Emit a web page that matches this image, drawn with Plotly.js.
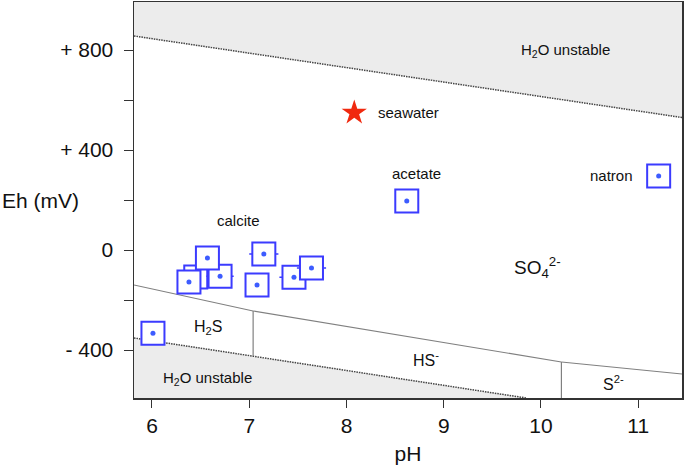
<!DOCTYPE html>
<html>
<head>
<meta charset="utf-8">
<script src="https://cdn.plot.ly/plotly-3.0.1.min.js"></script>
<style>
  html, body { margin: 0; padding: 0; background: #fff; }
  #chart { width: 685px; height: 466px; }
</style>
</head>
<body>
<div id="chart"></div>
<script>
// axis extent (pH, mV)
var phRange = [5.815, 11.45];
var ehRange = [-592, 992];

// water stability limits
var upperWaterPH = [5.815, 11.45];
var upperWaterEh = [856, 530];
var lowerWaterPH = [5.815, 9.85];
var lowerWaterEh = [-352, -592];

// sulfur species boundaries
var so4H2sPH = [5.815, 7.04];
var so4H2sEh = [-140, -244];
var so4HsPH = [7.04, 10.21];
var so4HsEh = [-244, -448];
var so4S2PH = [10.21, 11.45];
var so4S2Eh = [-448, -496];
var h2sHsPH = [7.04, 7.04];
var h2sHsEh = [-244, -424];
var hsS2PH = [10.21, 10.21];
var hsS2Eh = [-448, -592];

// samples (calcite cluster, lone point, acetate, natron), back to front
var samplePH = [6.45, 6.70, 6.57, 6.38, 7.08, 7.15, 7.46, 7.64, 6.01, 8.62, 11.21];
var sampleEh = [-108, -105, -32, -128, -140, -16, -109, -72, -333, 196, 296];
var sampleErr = [0, 0.14, 0, 0, 0, 0.15, 0.15, 0.15, 0, 0, 0];

// seawater
var seaPH = [8.08];
var seaEh = [549];

var yTicks = [-400, -200, 0, 200, 400, 600, 800];
var yTickText = ['- 400', '', '0', '', '+ 400', '', '+ 800'];
var xTicks = [6, 7, 8, 9, 10, 11];

var font = 'Liberation Sans, Arial, Helvetica, sans-serif';
var blue = '#3b3bff';

function area(px, py, edge) {
  return {
    x: px.concat([px[px.length - 1], px[0]]),
    y: py.concat([edge, edge]),
    type: 'scatter', mode: 'none', fill: 'toself',
    fillcolor: '#ececec', hoverinfo: 'skip'
  };
}
function boundary(px, py, dotted) {
  return {
    x: px, y: py, type: 'scatter', mode: 'lines', hoverinfo: 'skip',
    line: dotted ? { color: '#444', width: 1.5, dash: '1.5px,1px' } : { color: '#808080', width: 1.2 }
  };
}

var data = [
  area(upperWaterPH, upperWaterEh, ehRange[1]),
  area(lowerWaterPH, lowerWaterEh, ehRange[0]),
  boundary(upperWaterPH, upperWaterEh, true),
  boundary(lowerWaterPH, lowerWaterEh, true),
  boundary(so4H2sPH, so4H2sEh),
  boundary(so4HsPH, so4HsEh),
  boundary(so4S2PH, so4S2Eh),
  boundary(h2sHsPH, h2sHsEh),
  boundary(hsS2PH, hsS2Eh)
];

// one square + centre dot per sample so overlapping boxes hide what is behind
samplePH.forEach(function (ph, i) {
  data.push({
    x: [ph], y: [sampleEh[i]], type: 'scatter', mode: 'markers',
    error_x: { type: 'data', array: [sampleErr[i]], color: blue, thickness: 1.5, width: 0 },
    marker: { symbol: 'square', size: 23, color: '#fff', line: { color: blue, width: 2 } }
  });
  data.push({
    x: [ph], y: [sampleEh[i]], type: 'scatter', mode: 'markers',
    marker: { symbol: 'circle', size: 5, color: '#3d5cff' }
  });
});

data.push({
  x: seaPH, y: seaEh, type: 'scatter', mode: 'markers',
  marker: { symbol: 'star', size: 19, color: '#f0290f', line: { width: 0 } }
});

function label(text, x, y, size, anchor) {
  return { text: text, x: x, y: y, xref: 'x', yref: 'y', showarrow: false,
           xanchor: anchor || 'center', font: { size: size, color: '#111' } };
}

var layout = {
  width: 685, height: 466,
  margin: { l: 134, r: 3, t: 2, b: 68 },
  paper_bgcolor: '#fff', plot_bgcolor: '#fff',
  showlegend: false,
  font: { family: font, color: '#111' },
  xaxis: {
    range: phRange, tickvals: xTicks, ticks: 'outside', ticklen: 8, tickcolor: '#333',
    showgrid: false, zeroline: false, showline: true, mirror: true,
    linecolor: '#333', linewidth: 1.5, tickfont: { size: 21 },
    title: { text: 'pH', font: { size: 21 }, standoff: 10 }
  },
  yaxis: {
    range: ehRange, tickvals: yTicks, ticktext: yTickText, ticks: 'outside', ticklen: 9,
    tickcolor: '#333', ticklabelstandoff: 6,
    showgrid: false, zeroline: false, showline: true, mirror: true,
    linecolor: '#333', linewidth: 1.5, tickfont: { size: 21 }
  },
  annotations: [
    { text: 'Eh (mV)', xref: 'paper', yref: 'y', x: -0.2445, y: 200, xanchor: 'left',
      showarrow: false, font: { size: 21, color: '#111' } },
    label('H<sub>2</sub>O unstable', 10.25, 800, 15),
    label('H<sub>2</sub>O unstable', 6.57, -512, 15),
    label('seawater', 8.30, 552, 15, 'left'),
    label('acetate', 8.72, 308, 15),
    label('natron', 10.73, 300, 15),
    label('calcite', 6.89, 120, 15),
    label('SO<sub>4</sub><sup>2-</sup>', 9.96, -68, 19),
    label('H<sub>2</sub>S', 6.58, -308, 16),
    label('HS<sup>-</sup>', 8.82, -436, 16),
    label('S<sup>2-</sup>', 10.75, -532, 16)
  ]
};

Plotly.newPlot('chart', data, layout, { displayModeBar: false, staticPlot: true });
</script>
</body>
</html>
